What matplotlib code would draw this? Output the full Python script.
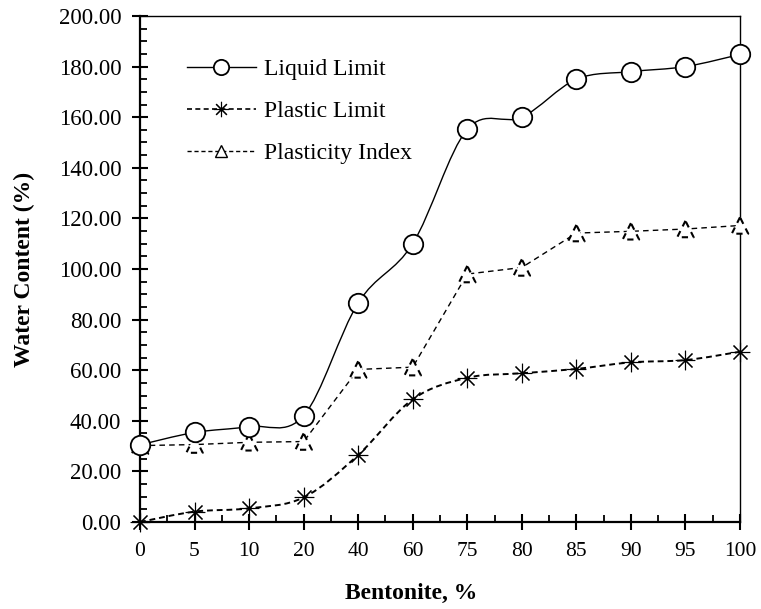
import numpy as np
import matplotlib
matplotlib.use("Agg")
import matplotlib.pyplot as plt
from matplotlib.path import Path
from matplotlib.patches import PathPatch
from matplotlib.lines import Line2D
from matplotlib.ticker import FixedLocator, MultipleLocator, FormatStrFormatter

# data
bentonite = ["0", "5", "10", "20", "40", "60", "75", "80", "85", "90", "95", "100"]
liquid_limit = [30.5, 35.4, 37.7, 42.0, 86.6, 110.0, 155.2, 160.0, 175.0, 178.0, 180.0, 184.8]
plastic_limit = [0.0, 4.1, 5.4, 9.7, 26.5, 48.5, 57.0, 58.8, 60.5, 63.1, 64.0, 67.3]
plasticity_index = [30.2, 30.6, 31.5, 31.8, 60.3, 61.2, 98.0, 100.6, 114.2, 114.9, 115.8, 117.2]

plt.rcParams['font.family'] = ['Liberation Serif', 'DejaVu Serif']


# Excel-style smoothed line as a bezier path through the points
def smooth_path(x, y):
    pts = np.column_stack([x, y])
    verts = [pts[0]]
    codes = [Path.MOVETO]
    n = len(pts)
    for i in range(n - 1):
        p0 = pts[max(i - 1, 0)]
        p1 = pts[i]
        p2 = pts[i + 1]
        p3 = pts[min(i + 2, n - 1)]
        verts += [p1 + (p2 - p0) / 6.0, p2 - (p3 - p1) / 6.0, p2]
        codes += [Path.CURVE4] * 3
    return Path(verts, codes)


xpos = np.arange(len(bentonite))

fig = plt.figure(figsize=(7.61, 6.09), dpi=100)
ax = fig.add_axes([140 / 761, 1 - 522 / 609, 600 / 761, 506 / 609])

# lines
ax.add_patch(PathPatch(smooth_path(xpos, liquid_limit), fill=False, edgecolor='black', lw=1.0, zorder=2))
ax.add_patch(PathPatch(smooth_path(xpos, plastic_limit), fill=False, edgecolor='black', lw=1.4,
                       linestyle=(0, (3, 2)), zorder=2))
ax.plot(xpos, plasticity_index, color='black', lw=1.0, linestyle=(0, (4, 3)), zorder=2)

# markers
ax.plot(xpos, liquid_limit, linestyle='none', marker='o', markersize=14, markerfacecolor='white',
        markeredgecolor='black', markeredgewidth=1.3, zorder=4, clip_on=False)
ax.plot(xpos, plastic_limit, linestyle='none', marker=(8, 2, 0), markersize=14, color='black',
        markeredgewidth=0.8, zorder=3, clip_on=False)
ax.scatter(xpos, plasticity_index, marker='^', s=140, facecolors='white', edgecolors='black',
           linewidths=1.5, linestyles=(0, (3, 2.5)), zorder=3, clip_on=False)

ax.set_xlim(0, 11)
ax.set_ylim(0, 200)

ax.xaxis.set_major_locator(FixedLocator(xpos))
ax.set_xticklabels(bentonite)
ax.xaxis.set_minor_locator(FixedLocator(xpos[:-1] + 0.5))
ax.yaxis.set_major_locator(MultipleLocator(20))
ax.yaxis.set_minor_locator(MultipleLocator(5))
ax.yaxis.set_major_formatter(FormatStrFormatter('%.2f'))

ax.tick_params(which='major', direction='inout', length=11, width=1.5)
ax.tick_params(axis='x', which='major', labelsize=15.5, pad=9)
ax.tick_params(axis='y', which='major', labelsize=16.5, pad=8)
ax.tick_params(which='minor', direction='in', length=5, width=1.3)
ax.tick_params(top=False, right=False, which='both')

for side in ['left', 'bottom']:
    ax.spines[side].set_linewidth(1.6)
for side in ['top', 'right']:
    ax.spines[side].set_linewidth(1.0)

ax.set_xlabel("Bentonite, %", fontsize=17, fontweight='bold')
ax.xaxis.set_label_coords(0.452, -0.121)
ax.xaxis.label.set_va('top')
ax.set_ylabel("Water Content (%)", fontsize=17, fontweight='bold')
ax.yaxis.set_label_coords(-0.175, 0.5)

handles = [
    Line2D([], [], color='black', lw=1.0, marker='o', markersize=11, markerfacecolor='white',
           markeredgewidth=1.3),
    Line2D([], [], color='black', lw=1.2, linestyle=(0, (3, 2)), marker=(8, 2, 0), markersize=11,
           markeredgewidth=0.8),
    Line2D([], [], color='black', lw=1.0, linestyle=(0, (3, 2)), marker='^', markersize=9,
           markerfacecolor='white'),
]
ax.legend(handles, ["Liquid Limit", "Plastic Limit", "Plasticity Index"], loc='upper left',
          bbox_to_anchor=(0.063, 0.935), frameon=False, fontsize=17, handlelength=2.9,
          handletextpad=0.35, labelspacing=0.88, borderaxespad=0)

fig.savefig("out.png", dpi=100)
